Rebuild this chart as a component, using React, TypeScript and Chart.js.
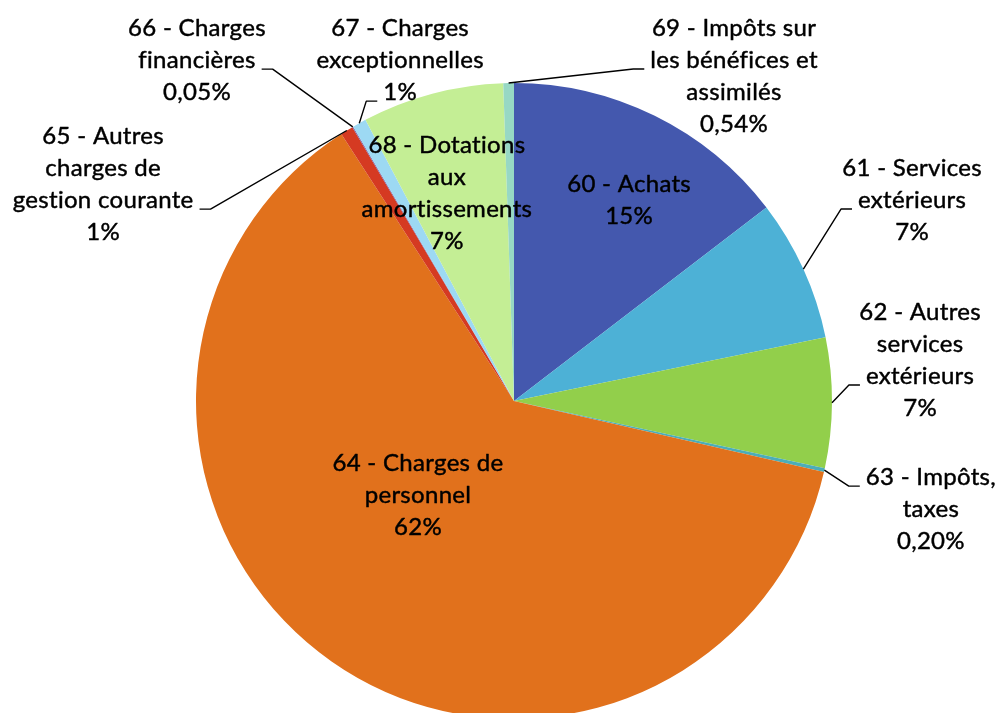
import React, { useEffect, useRef } from 'react';
import { Chart, registerables } from 'chart.js';

Chart.register(...registerables);

// ---- data ----
const categories = [
  '60 - Achats',
  '61 - Services extérieurs',
  '62 - Autres services extérieurs',
  '63 - Impôts, taxes',
  '64 - Charges de personnel',
  '65 - Autres charges de gestion courante',
  '66 - Charges financières',
  '67 - Charges exceptionnelles',
  '68 - Dotations aux amortissements',
  '69 - Impôts sur les bénéfices et assimilés',
];
const values = [14.6, 7.2, 6.6, 0.2, 62.3, 0.65, 0.05, 0.7, 7.2, 0.54];
const percentLabels = ['15%', '7%', '7%', '0,20%', '62%', '1%', '0,05%', '1%', '7%', '0,54%'];
const labelLines: string[][] = [
  ['60 - Achats'],
  ['61 - Services', 'extérieurs'],
  ['62 - Autres', 'services', 'extérieurs'],
  ['63 - Impôts,', 'taxes'],
  ['64 - Charges de', 'personnel'],
  ['65 - Autres', 'charges de', 'gestion courante'],
  ['66 - Charges', 'financières'],
  ['67 - Charges', 'exceptionnelles'],
  ['68 - Dotations', 'aux', 'amortissements'],
  ['69 - Impôts sur', 'les bénéfices et', 'assimilés'],
];
const colors = [
  '#4458AE',
  '#4DB1D6',
  '#92CF4B',
  '#4BADB8',
  '#E1711C',
  '#D53A22',
  '#8064A2',
  '#9DD9F3',
  '#C4EE95',
  '#97D8C4',
];

// ---- label layout (label-block centre in units of the pie radius, from the pie centre;
//      leaderLine = which text line the leader attaches to, -1 = no leader) ----
const labelLayout = [
  { fx: 0.362, fy: -0.632, leaderLine: -1 },
  { fx: 1.252, fy: -0.632, leaderLine: 1 },
  { fx: 1.277, fy: -0.129, leaderLine: 2 },
  { fx: 1.311, fy: 0.34, leaderLine: 0 },
  { fx: -0.302, fy: 0.296, leaderLine: -1 },
  { fx: -1.292, fy: -0.682, leaderLine: 2 },
  { fx: -0.997, fy: -1.072, leaderLine: 1 },
  { fx: -0.358, fy: -1.072, leaderLine: 2 },
  { fx: -0.211, fy: -0.654, leaderLine: -1 },
  { fx: 0.692, fy: -1.022, leaderLine: 1 },
];

const FONT = '24px Lato, "Open Sans", sans-serif';
const LINE_H = 32;

const sliceLabelPlugin = {
  id: 'sliceLabels',
  afterDatasetsDraw(chart: any) {
    const ctx = chart.ctx as CanvasRenderingContext2D;
    const meta = chart.getDatasetMeta(0);
    ctx.save();
    ctx.font = FONT;
    try {
      (ctx as any).letterSpacing = '0.3px';
    } catch (e) {
      /* ignore */
    }
    ctx.textAlign = 'center';
    ctx.textBaseline = 'middle';
    meta.data.forEach((arc: any, i: number) => {
      const p = arc.getProps(['x', 'y', 'startAngle', 'endAngle', 'outerRadius'], true);
      const r = p.outerRadius;
      const lay = labelLayout[i];
      const lines = [...labelLines[i], percentLabels[i]];
      const lx = p.x + lay.fx * r;
      const ly = p.y + lay.fy * r;
      const top = ly - ((lines.length - 1) * LINE_H) / 2;

      if (lay.leaderLine >= 0) {
        const mid = (p.startAngle + p.endAngle) / 2;
        const ax = p.x + Math.cos(mid) * r;
        const ay = p.y + Math.sin(mid) * r;
        const k = lay.leaderLine;
        const w = ctx.measureText(lines[k]).width;
        const ey = top + k * LINE_H + 9;
        const side = ax < lx ? -1 : 1;
        const ex = lx + side * (w / 2 + 6);
        const bx = ex + side * 11;
        ctx.beginPath();
        ctx.moveTo(ax, ay);
        ctx.lineTo(bx, ey);
        ctx.lineTo(ex, ey);
        ctx.strokeStyle = '#000';
        ctx.lineWidth = 1.4;
        ctx.stroke();
      }

      ctx.fillStyle = '#000';
      ctx.strokeStyle = '#000';
      ctx.lineWidth = 0.45;
      ctx.lineJoin = 'round';
      lines.forEach((t, j) => {
        ctx.fillText(t, lx, top + j * LINE_H);
        ctx.strokeText(t, lx, top + j * LINE_H);
      });
    });
    ctx.restore();
  },
};

export default function App() {
  const ref = useRef<HTMLCanvasElement>(null);
  useEffect(() => {
    const chart = new Chart(ref.current!, {
      type: 'pie',
      data: {
        labels: categories,
        datasets: [
          {
            data: values,
            backgroundColor: colors,
            borderWidth: 0,
            hoverOffset: 0,
          },
        ],
      },
      options: {
        responsive: false,
        animation: false,
        events: [],
        layout: { padding: { left: 196, top: 83, right: 165, bottom: 41 } },
        plugins: { legend: { display: false }, tooltip: { enabled: false } },
      },
      plugins: [sliceLabelPlugin],
    } as any);
    return () => chart.destroy();
  }, []);
  return (
    <div
      style={{
        position: 'fixed',
        left: 0,
        top: 0,
        width: 997,
        height: 713,
        overflow: 'hidden',
        background: '#fff',
      }}
    >
      <canvas ref={ref} width={997} height={760} style={{ display: 'block' }} />
    </div>
  );
}
